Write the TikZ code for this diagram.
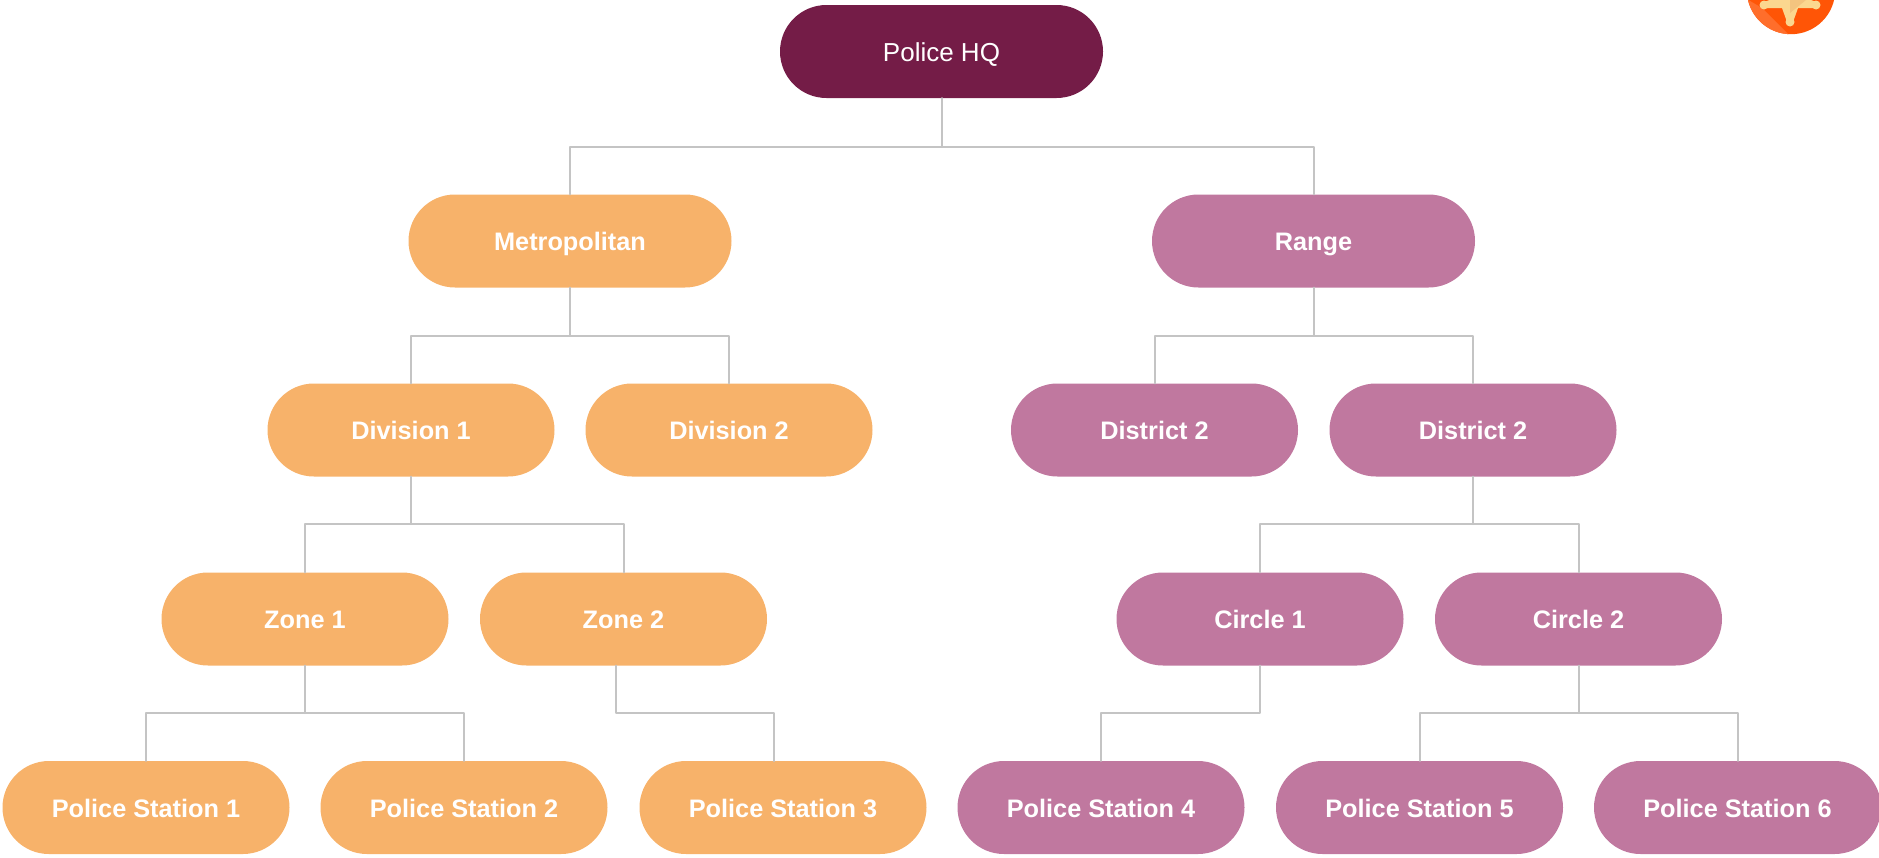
\documentclass[tikz,border=0pt]{standalone}
\usepackage{fontspec}
\setmainfont{Liberation Sans}
\usetikzlibrary{shapes.misc}
\definecolor{hqc}{HTML}{741C47}
\definecolor{orc}{HTML}{F7B26A}
\definecolor{puc}{HTML}{C0789F}
\definecolor{lnc}{HTML}{C4C4C4}
\definecolor{bdg}{HTML}{FF5506}
\definecolor{bdl}{HTML}{FF6E2B}
\definecolor{stl}{HTML}{FBD78F}
\definecolor{std}{HTML}{F3C47F}
\tikzset{x=1pt,y=-1pt,
 pill/.style={rounded rectangle,minimum width=287pt,minimum height=93pt,inner sep=0pt,text height=19pt,text depth=0pt,text=white,font=\fontsize{25.3}{30}\selectfont\bfseries},
 ora/.style={pill,fill=orc},
 pur/.style={pill,fill=puc},
 hqbox/.style={pill,fill=hqc,minimum width=323pt,font=\fontsize{26}{30}\selectfont},
 lnk/.style={draw=lnc,line width=2pt,line cap=round,line join=round}}
\begin{document}
\begin{tikzpicture}
\useasboundingbox (0,0) rectangle (1879,857);
\node[hqbox] (hq) at (941.5,51.5) {Police HQ};
\node[ora,minimum width=323pt] (met) at (570,241) {Metropolitan};
\node[pur,minimum width=323pt] (rng) at (1313.5,241) {Range};
\node[ora] (d1) at (411,430) {Division 1};
\node[ora] (d2) at (729,430) {Division 2};
\node[pur] (d3) at (1154.5,430) {District 2};
\node[pur] (d4) at (1473,430) {District 2};
\node[ora] (z1) at (305,619) {Zone 1};
\node[ora] (z2) at (623.5,619) {Zone 2};
\node[pur] (c1) at (1260,619) {Circle 1};
\node[pur] (c2) at (1578.5,619) {Circle 2};
\node[ora] (p1) at (146,807.5) {Police Station 1};
\node[ora] (p2) at (464,807.5) {Police Station 2};
\node[ora] (p3) at (783,807.5) {Police Station 3};
\node[pur] (p4) at (1101,807.5) {Police Station 4};
\node[pur] (p5) at (1419.5,807.5) {Police Station 5};
\node[pur] (p6) at (1737.5,807.5) {Police Station 6};
\coordinate (z2o) at (616,665.5);
\coordinate (p3o) at (774,761);
\coordinate (b1) at (0,146.5);
\coordinate (b2) at (0,335.5);
\coordinate (b3) at (0,524);
\coordinate (b4) at (0,713);
\foreach \pa/\ka/\kb/\bus in {hq/met/rng/b1,met/d1/d2/b2,rng/d3/d4/b2,d1/z1/z2/b3,d4/c1/c2/b3,z1/p1/p2/b4,c2/p5/p6/b4}{
  \draw[lnk] (\pa.south) -- (\pa.south|-\bus);
  \draw[lnk] (\ka.north) |- (\bus-|\kb.north) -- (\kb.north);
}
\draw[lnk] (z2o) |- (p3o|-b4) -- (p3o);
\draw[lnk] (c1.south) -- (c1.south|-b4) -- (p4.north|-b4) -- (p4.north);
% badge
\begin{scope}
\clip (1791,-10) circle (44.2);
\fill[bdg] (1740,-12) rectangle (1840,40);
\fill[bdl] (1745,-2) -- (1762,8) -- (1792,38) -- (1740,38) -- cycle;
\end{scope}
\begin{scope}
\clip (1740,0) rectangle (1840,40);
\fill[stl] (1764,2) -- (1775,-2) -- (1806,-2) -- (1816,2) -- (1816,8) -- (1798,8) -- (1793,22) -- (1787,22) -- (1782,8) -- (1764,8) -- cycle;
\fill[stl] (1764,5) circle (4.5) (1816,5) circle (4.5) (1790,22) circle (4.5);
\fill[std] (1790,13) -- (1790,0) -- (1806,0) -- cycle;
\end{scope}
\end{tikzpicture}
\end{document}
